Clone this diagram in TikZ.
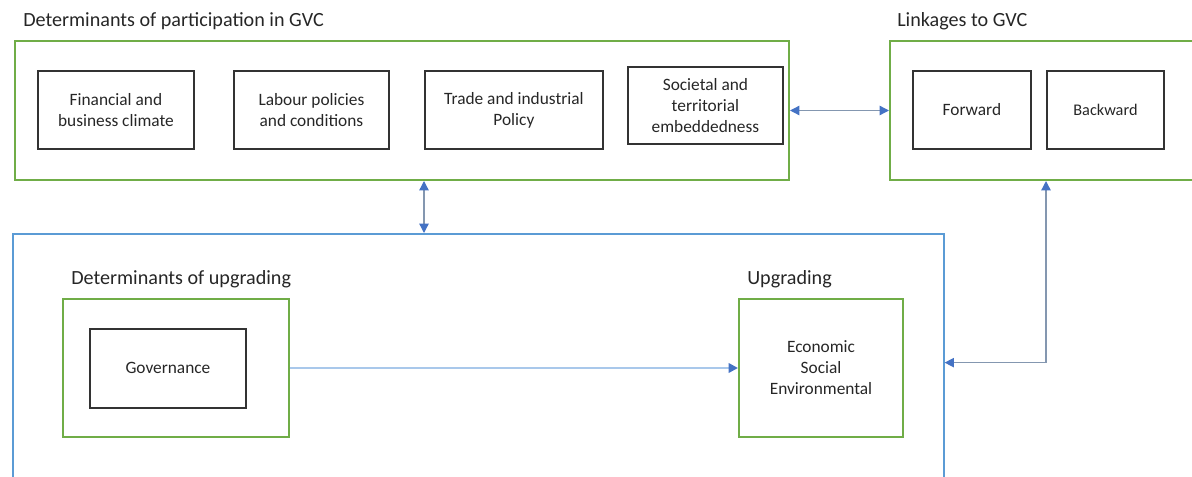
\documentclass[tikz,border=0pt]{standalone}
\usepackage{fontspec}
\setmainfont{Carlito}
\usetikzlibrary{arrows.meta,calc}
\definecolor{gvcgreen}{HTML}{70AD47}
\definecolor{gvcblue}{HTML}{5B9BD5}
\definecolor{arrline}{HTML}{8497B0}
\definecolor{arrhead}{HTML}{4472C4}
\definecolor{lightarr}{HTML}{A9C8EB}
\definecolor{txt}{HTML}{262626}
\definecolor{boxline}{HTML}{333333}
\tikzset{
  greenbox/.style={draw=gvcgreen,line width=1.5pt,anchor=north west,inner sep=0pt},
  bluebox/.style={draw=gvcblue,line width=1.2pt,anchor=north west,inner sep=0pt},
  blackbox/.style={draw=boxline,line width=1.4pt,anchor=north west,inner sep=0pt,align=center,
    text=txt,font=\fontsize{13}{15.75}\selectfont},
  title/.style={anchor=west,text=txt,font=\fontsize{15.1}{17}\selectfont,inner sep=0pt},
  link/.style={draw=arrline,line width=1pt,{Triangle[length=7pt,width=7pt,color=arrhead]}-{Triangle[length=7pt,width=7pt,color=arrhead]}},
  flow/.style={draw=lightarr,line width=2pt,-{Triangle[length=7pt,width=7pt,color=arrhead]}}
}
\begin{document}
\begin{tikzpicture}[x=0.75pt,y=-0.75pt]
\useasboundingbox (0,0) rectangle (1192,477);
\clip (0,0) rectangle (1192,477);
% titles
\node[title] (t1) at (23,21) {Determinants of participation in GVC};
\node[title] (t2) at (897,21) {Linkages to GVC};
\node[title] (t3) at (71,279) {Determinants of upgrading};
\node[title] (t4) at (747,279) {Upgrading};
% containers
\node[greenbox,minimum width=580.5pt,minimum height=104.25pt] (gA) at (14,40) {};
\node[greenbox,minimum width=240pt,minimum height=104.25pt] (gB) at (889,40) {};
\node[bluebox,minimum width=698.25pt,minimum height=200pt] (blue) at (12,233) {};
\node[greenbox,minimum width=169.5pt,minimum height=103.5pt] (gU) at (62,298) {};
\node[greenbox,minimum width=123pt,minimum height=103.5pt,align=center,text=txt,
  font=\fontsize{13}{15.75}\selectfont] (up) at (738,298) {Economic\\Social\\Environmental};
% inner boxes
\node[blackbox,minimum width=117pt,minimum height=58.5pt] (fin) at (37,70) {Financial and\\business climate};
\node[blackbox,minimum width=116.25pt,minimum height=58.5pt] (lab) at (233,70) {Labour policies\\and conditions};
\node[blackbox,minimum width=133.5pt,minimum height=58.5pt] (trade) at (424,70) {Trade and industrial\\Policy};
\node[blackbox,minimum width=116.25pt,minimum height=57.75pt] (soc) at (627,66) {Societal and\\territorial\\embeddedness};
\node[blackbox,minimum width=88.5pt,minimum height=58.5pt] (fwd) at (912,70) {Forward};
\node[blackbox,minimum width=87.75pt,minimum height=58.5pt,font=\fontsize{12.2}{14}\selectfont] (bwd) at (1046,70) {Backward};
\node[blackbox,minimum width=117pt,minimum height=59.25pt] (gov) at (89,328) {Governance};
% connectors
\draw[link] (gA.east) -- (gB.west);
\coordinate (vx) at ($(gA.south west)+(410,0)$);
\draw[link] (vx) -- (vx |- blue.north);
\draw[flow] (gU.east) -- (up.west);
\coordinate (re) at ($(blue.east)+(0,-4.5)$);
\draw[link] (bwd.west |- gB.south) |- (re);
\end{tikzpicture}
\end{document}
